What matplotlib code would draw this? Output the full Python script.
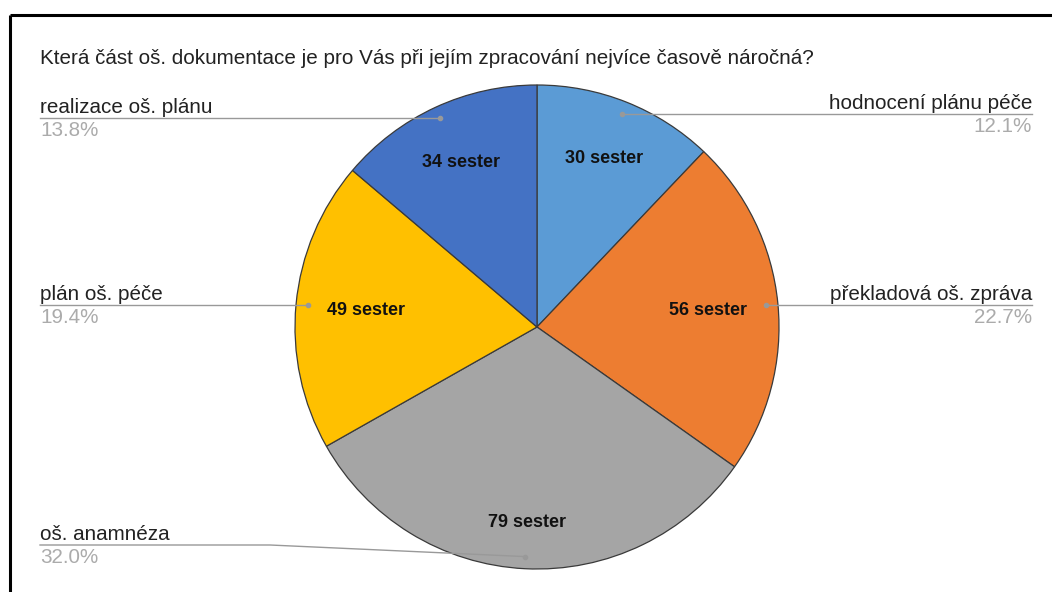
import numpy as np
import matplotlib.pyplot as plt

# data
kategorie = ['hodnocení plánu péče', 'překladová oš. zpráva', 'oš. anamnéza',
             'plán oš. péče', 'realizace oš. plánu']
pocty = [30, 56, 79, 49, 34]
procenta = [12.1, 22.7, 32.0, 19.4, 13.8]
barvy = ['#5B9BD5', '#ED7D31', '#A5A5A5', '#FFC000', '#4472C4']
titulek = 'Která část oš. dokumentace je pro Vás při jejím zpracování nejvíce časově náročná?'

plt.rcParams['font.family'] = ['Liberation Sans', 'DejaVu Sans']

W, H = 1052, 592
fig = plt.figure(figsize=(W / 100, H / 100), dpi=100)
ax = fig.add_axes([0, 0, 1, 1])

cx, cy, r = 537, H - 327, 242
wedges, _ = ax.pie(procenta, colors=barvy, startangle=90, counterclock=False,
                   center=(cx, cy), radius=r, frame=True,
                   wedgeprops=dict(edgecolor='#3a3a3a', linewidth=0.9))
ax.set_xlim(0, W)
ax.set_ylim(0, H)
ax.set_aspect('equal')
ax.axis('off')

# frame lines (top + left)
ax.plot([10, W], [H - 15, H - 15], color='black', lw=2.2, solid_capstyle='butt')
ax.plot([10, 10], [H - 15, 0], color='black', lw=2.2, solid_capstyle='butt')

fs = 14.9
ax.text(40, H - 58, titulek, fontsize=fs, color='#222222', va='center', ha='left')

# label distance inside slice (fraction of radius)
vzdal = [0.75, 0.71, 0.81, 0.71, 0.75]
ymin_label = H - 545

for w, kat, n, p, d in zip(wedges, kategorie, pocty, procenta, vzdal):
    mid = np.deg2rad((w.theta1 + w.theta2) / 2)
    ax.text(cx + d * r * np.cos(mid), cy + d * r * np.sin(mid), f'{n} sester',
            fontsize=13, fontweight='bold', color='#111111', ha='center', va='center')

    dx, dy = cx + 0.95 * r * np.cos(mid), cy + 0.95 * r * np.sin(mid)
    ly = max(dy, ymin_label)
    if np.cos(mid) < 0:
        xs = [40, 270, dx]
        tx, ha = 40, 'left'
    else:
        xs = [1032, W - 270, dx]
        tx, ha = 1032, 'right'
    ax.plot(xs, [ly, ly, dy], color='#999999', lw=1)
    ax.plot([dx], [dy], 'o', color='#999999', ms=3)
    ax.text(tx, ly + 5, kat, fontsize=fs, color='#222222', ha=ha, va='baseline')
    ax.text(tx, ly - 3, f'{p:.1f}%', fontsize=fs, color='#ABABAB', ha=ha, va='top')

fig.savefig('out.png', dpi=100)
